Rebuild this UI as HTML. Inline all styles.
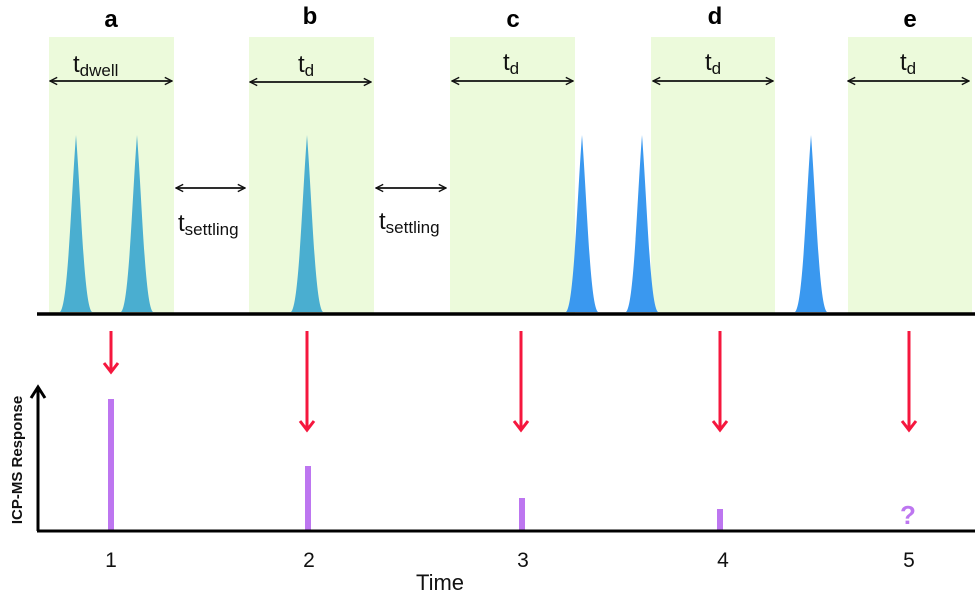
<!DOCTYPE html>
<html><head><meta charset="utf-8"><style>body{margin:0;background:#fff}svg{display:block}text{font-family:"Liberation Sans",sans-serif}</style></head><body>
<svg width="977" height="595" viewBox="0 0 977 595">
<defs>
<marker id="ah" viewBox="0 0 10 10" refX="9" refY="5" markerWidth="9" markerHeight="9" orient="auto-start-reverse" markerUnits="userSpaceOnUse"><path d="M1,1 L9,5 L1,9" fill="none" stroke="#111" stroke-width="1.6"/></marker>
</defs>
<g fill="#ecfadb">
<rect x="49" y="37" width="125" height="276"/>
<rect x="249" y="37" width="125" height="276"/>
<rect x="450" y="37" width="125" height="276"/>
<rect x="651" y="37" width="124" height="276"/>
<rect x="848" y="37" width="124" height="276"/>
</g>
<g font-weight="bold" font-size="24" text-anchor="middle" fill="#000">
<text x="111" y="27">a</text><text x="310" y="24">b</text><text x="513" y="27">c</text><text x="715" y="24">d</text><text x="910" y="27">e</text>
</g>
<g stroke="#111" stroke-width="1.8" marker-start="url(#ah)" marker-end="url(#ah)">
<line x1="50" y1="81" x2="172" y2="81"/>
<line x1="250" y1="82" x2="371" y2="82"/>
<line x1="452" y1="81" x2="573" y2="81"/>
<line x1="653" y1="81" x2="773" y2="81"/>
<line x1="848" y1="81" x2="969" y2="81"/>
<line x1="176" y1="188" x2="245" y2="188"/>
<line x1="376" y1="188" x2="446" y2="188"/>
</g>
<g font-size="24" fill="#111">
<text x="73" y="72">t<tspan font-size="17" dy="4">dwell</tspan></text>
<text x="298" y="72">t<tspan font-size="17" dy="4">d</tspan></text>
<text x="503" y="70">t<tspan font-size="17" dy="4">d</tspan></text>
<text x="705" y="70">t<tspan font-size="17" dy="4">d</tspan></text>
<text x="900" y="70">t<tspan font-size="17" dy="4">d</tspan></text>
<text x="178" y="231">t<tspan font-size="17" dy="4">settling</tspan></text>
<text x="379" y="229">t<tspan font-size="17" dy="4">settling</tspan></text>
</g>
<g fill="#4aaed0">
<path d="M60,312 C68,306 71,200 76,135 C81,200 84,306 92,312Z"/>
<path d="M121,312 C129,306 132,200 137,135 C142,200 145,306 153,312Z"/>
<path d="M291,312 C299,306 302,200 307,135 C312,200 315,306 323,312Z"/>
</g>
<g fill="#3a98ef">
<path d="M566,312 C574,306 577,200 582,135 C587,200 590,306 598,312Z"/>
<path d="M626,312 C634,306 637,200 642,135 C647,200 650,306 658,312Z"/>
<path d="M795,312 C803,306 806,200 811,135 C816,200 819,306 827,312Z"/>
</g>
<line x1="37" y1="314" x2="975" y2="314" stroke="#000" stroke-width="3.5"/>
<g stroke="#f5173e" stroke-width="3" fill="none">
<line x1="111" y1="331" x2="111" y2="372"/><path d="M104,363 L111,372 L118,363"/>
<line x1="307" y1="331" x2="307" y2="430"/><path d="M300,421 L307,430 L314,421"/>
<line x1="521" y1="331" x2="521" y2="430"/><path d="M514,421 L521,430 L528,421"/>
<line x1="720" y1="331" x2="720" y2="430"/><path d="M713,421 L720,430 L727,421"/>
<line x1="909" y1="331" x2="909" y2="430"/><path d="M902,421 L909,430 L916,421"/>
</g>
<g fill="#bd76f0">
<rect x="108" y="399" width="6" height="132"/>
<rect x="305" y="466" width="6" height="65"/>
<rect x="519" y="498" width="6" height="33"/>
<rect x="717" y="509" width="6" height="22"/>
<text x="908" y="524" font-size="26" font-weight="bold" text-anchor="middle">?</text>
</g>
<line x1="38" y1="531" x2="38" y2="390" stroke="#000" stroke-width="3"/>
<path d="M31,398 L38,387 L45,398" fill="none" stroke="#000" stroke-width="3"/>
<line x1="37" y1="531" x2="975" y2="531" stroke="#000" stroke-width="3"/>
<g font-size="21" text-anchor="middle" fill="#111">
<text x="111" y="567">1</text><text x="309" y="567">2</text><text x="523" y="567">3</text><text x="723" y="567">4</text><text x="909" y="567">5</text>
<text x="440" y="590" font-size="22">Time</text>
</g>
<text transform="translate(22,460) rotate(-90)" font-size="15" font-weight="bold" text-anchor="middle" fill="#111">ICP-MS Response</text>
</svg>
</body></html>
